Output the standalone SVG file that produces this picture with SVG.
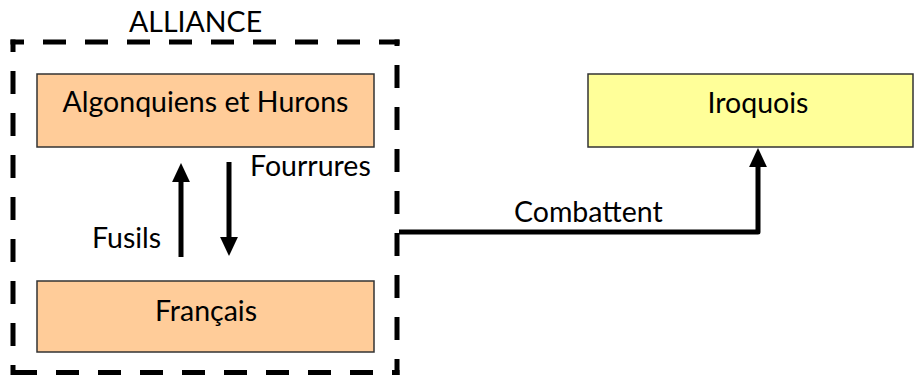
<svg xmlns="http://www.w3.org/2000/svg" width="915" height="377" viewBox="0 0 915 377">
<style>
  .box { stroke: #333333; stroke-width: 1.5; }
  .orange { fill: #FFCC99; }
  .yellow { fill: #FFFF99; }
  .dash { fill: none; stroke: #000000; stroke-width: 5; stroke-dasharray: 23 19; }
  .conn { fill: none; stroke: #000000; stroke-width: 5; stroke-linejoin: round; }
  text { font-family: "Lato", "Liberation Sans", sans-serif; font-size: 28.5px; fill: #000000; }
  .mid { text-anchor: middle; }
</style>
<defs>
  <marker id="ah" markerUnits="userSpaceOnUse" markerWidth="20" markerHeight="20" viewBox="0 -9 19 18" refX="1" refY="0" orient="auto">
    <path d="M0,-8.5 L18,0 L0,8.5 Z" fill="#000000"/>
  </marker>
</defs>
<g id="alliance">
  <line class="dash" x1="10.5" y1="42" x2="399.5" y2="42" stroke-dashoffset="9.5"/>
  <line class="dash" x1="13" y1="39.5" x2="13" y2="375" stroke-dashoffset="10.5"/>
  <line class="dash" x1="397" y1="39.5" x2="397" y2="375" stroke-dashoffset="16.5"/>
  <line class="dash" x1="10.5" y1="372.5" x2="399.5" y2="372.5" stroke-dashoffset="38.5"/>
  <text x="129" y="32" font-size="26">ALLIANCE</text>
</g>
<g id="algonquiens">
  <rect class="box orange" x="37" y="74" width="337" height="73"/>
  <text class="mid" x="205.5" y="112" font-size="26.5">Algonquiens et Hurons</text>
</g>
<g id="francais">
  <rect class="box orange" x="37" y="281" width="337" height="71"/>
  <text class="mid" x="206" y="321">Français</text>
</g>
<g id="iroquois">
  <rect class="box yellow" x="588" y="74" width="325" height="73"/>
  <text class="mid" x="758" y="113">Iroquois</text>
</g>
<g id="connectors">
  <line class="conn" x1="181" y1="257" x2="181" y2="181" marker-end="url(#ah)"/>
  <line class="conn" x1="229" y1="162" x2="229" y2="238" marker-end="url(#ah)"/>
  <polyline class="conn" points="399,232 758,232 758,166" marker-end="url(#ah)"/>
  <text x="250" y="176">Fourrures</text>
  <text x="92" y="248">Fusils</text>
  <text x="514" y="222">Combattent</text>
</g>
</svg>
